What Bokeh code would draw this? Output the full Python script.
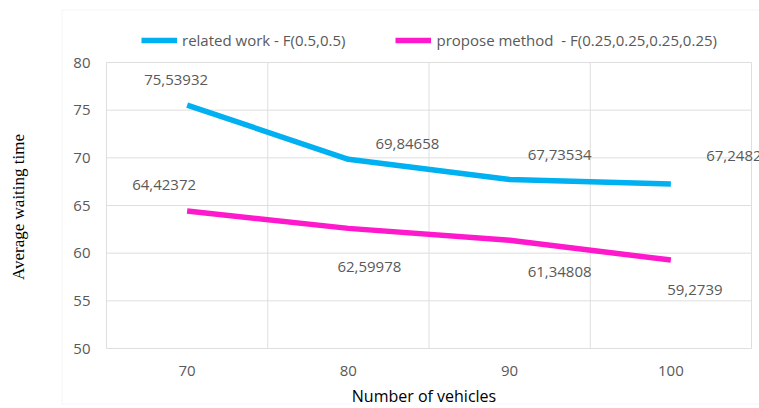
from bokeh.plotting import figure
from bokeh.models import (ColumnDataSource, LabelSet, Label, Legend, LegendItem, FixedTicker,
                          BoxAnnotation, Range1d)
from bokeh.core.properties import value
from bokeh.embed import file_html
from bokeh.resources import INLINE

# ---- data ----
vehicles = [70, 80, 90, 100]
related_work = [75.53932, 69.84658, 67.73534, 67.2482]
proposed = [64.42372, 62.59978, 61.34808, 59.2739]
y_ticks = [50, 55, 60, 65, 70, 75, 80]
series_names = ["related work - F(0.5,0.5)", "propose method  - F(0.25,0.25,0.25,0.25)"]
x_title = "Number of vehicles"
y_title = "Average waiting time"

# label placement (screen pixel offsets, layout only)
rw_dx = [-11, 59, 50, 63]
rw_dy = [25, 15, 24, 28]
pm_dx = [-23, 21, 50, 24]
pm_dy = [26, -39, -32, -30]

BLUE = "#00B0F0"
PINK = "#FF19CC"
GRID = "#dedede"
BORDER = "#d9d9d9"
TXT = "#595959"
FONT = "Open Sans"

# ---- layout geometry (pixels) ----
W, H = 759, 408
F_LEFT, F_TOP, F_BOTTOM = 60, 8, 405          # frame edges on the canvas
PLOT_LEFT, PLOT_BOTTOM = 106, 348             # where the inner plot area starts
PX_X = 161.25 / 10.0                          # px per x unit
PX_Y = 286.0 / 30.0                           # px per y unit

half = (vehicles[1] - vehicles[0]) / 2
x_lo = vehicles[0] - half
x_hi = vehicles[-1] + half
y_lo, y_hi = y_ticks[0], y_ticks[-1]

xs = x_lo - (PLOT_LEFT - F_LEFT) / PX_X
xe = x_lo + (W - PLOT_LEFT) / PX_X
ys = y_lo - (F_BOTTOM - PLOT_BOTTOM) / PX_Y
ye = y_lo + (PLOT_BOTTOM - F_TOP) / PX_Y

p = figure(width=W, height=H, output_backend="svg", toolbar_location=None,
           x_range=Range1d(xs, xe), y_range=Range1d(ys, ye),
           min_border_left=F_LEFT, min_border_right=0, min_border_top=F_TOP,
           min_border_bottom=H - F_BOTTOM)
p.outline_line_color = None
p.background_fill_color = "white"
p.border_fill_color = "white"
p.xgrid.visible = False
p.ygrid.visible = False
p.xaxis.visible = False

# outer chart border (left, top, bottom edges)
p.add_layout(BoxAnnotation(left=xs + 1.5 / PX_X, right=xe + 10,
                           top=ye - 1.5 / PX_Y, bottom=ys + 1.5 / PX_Y,
                           fill_alpha=0, line_color=BORDER, line_width=1, level="underlay"))

# grid lines of the inner plot area
bounds = [v - half for v in vehicles] + [vehicles[-1] + half]
p.segment(x0=bounds, x1=bounds, y0=[y_lo] * len(bounds), y1=[y_hi] * len(bounds),
          line_color=GRID, line_width=1)
p.segment(x0=[x_lo] * len(y_ticks), x1=[x_hi] * len(y_ticks), y0=y_ticks, y1=y_ticks,
          line_color=GRID, line_width=1)

src_rw = ColumnDataSource(dict(x=vehicles, y=related_work,
                               t=[f"{v}".replace(".", ",") for v in related_work],
                               dx=rw_dx, dy=rw_dy))
src_pm = ColumnDataSource(dict(x=vehicles, y=proposed,
                               t=[f"{v}".replace(".", ",") for v in proposed],
                               dx=pm_dx, dy=pm_dy))

r1 = p.line("x", "y", source=src_rw, line_color=BLUE, line_width=5.5)
r2 = p.line("x", "y", source=src_pm, line_color=PINK, line_width=5.5)

for src in (src_rw, src_pm):
    p.add_layout(LabelSet(x="x", y="y", text="t", source=src, x_offset="dx", y_offset="dy",
                          text_align="center", text_baseline="middle",
                          text_font=value(FONT), text_font_size="15px", text_color=TXT))

# tick labels
ysrc = ColumnDataSource(dict(x=[x_lo] * len(y_ticks), y=y_ticks, t=[str(t) for t in y_ticks]))
p.add_layout(LabelSet(x="x", y="y", text="t", source=ysrc, x_offset=-16,
                      text_align="right", text_baseline="middle",
                      text_font=value(FONT), text_font_size="15px", text_color=TXT))
xsrc = ColumnDataSource(dict(x=vehicles, y=[y_lo] * len(vehicles), t=[str(v) for v in vehicles]))
p.add_layout(LabelSet(x="x", y="y", text="t", source=xsrc, y_offset=-22,
                      text_align="center", text_baseline="middle",
                      text_font=value(FONT), text_font_size="15px", text_color=TXT))

# x title (covers the border like the pasted text box)
p.add_layout(Label(x=(x_lo + x_hi) / 2, y=y_lo, x_offset=-5, y_offset=-47, text=x_title,
                   text_align="center", text_baseline="middle",
                   text_font=FONT, text_font_size="16px", text_color="black",
                   background_fill_color="white", background_fill_alpha=1.0))

# y title via the left axis
p.yaxis.ticker = FixedTicker(ticks=[])
p.yaxis.axis_line_color = None
p.yaxis.major_tick_line_color = None
p.yaxis.minor_tick_line_color = None
p.yaxis.axis_label = y_title
p.yaxis.axis_label_text_font = "Liberation Serif"
p.yaxis.axis_label_text_font_size = "17px"
p.yaxis.axis_label_text_font_style = "normal"
p.yaxis.axis_label_text_color = "black"
p.yaxis.axis_label_standoff = 33

legend = Legend(items=[LegendItem(label=series_names[0], renderers=[r1]),
                       LegendItem(label=series_names[1], renderers=[r2])],
                orientation="horizontal", location=(81, 355),
                border_line_color=None, background_fill_alpha=0,
                glyph_width=36, glyph_height=20, label_standoff=5, spacing=50,
                label_text_font=FONT, label_text_font_size="15px", label_text_color=TXT,
                padding=0, margin=0)
p.add_layout(legend)

open("out.html", "w").write(file_html(p, INLINE))
